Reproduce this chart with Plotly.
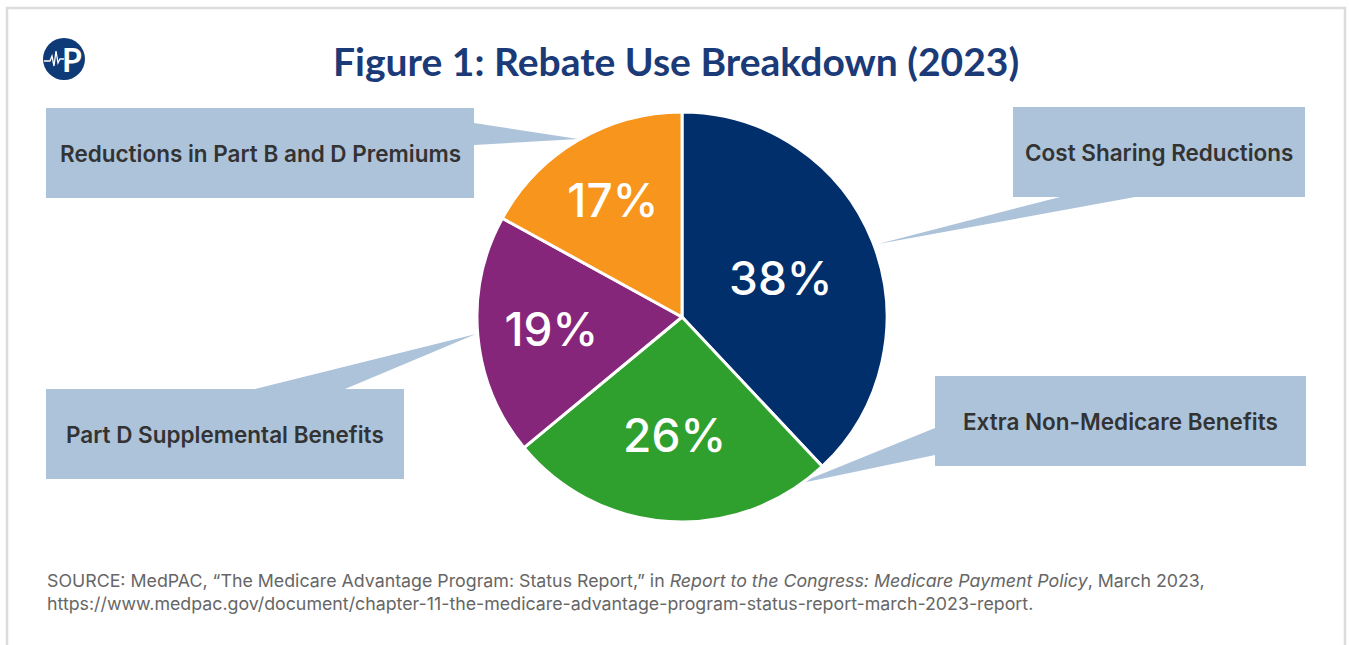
import plotly.graph_objects as go

W, H = 1349, 645

labels = ["Cost Sharing Reductions", "Extra Non-Medicare Benefits",
          "Part D Supplemental Benefits", "Reductions in Part B and D Premiums"]
values = [38, 26, 19, 17]
colors = ["#002f6c", "#2fa02e", "#86267b", "#f8951d"]

title_text = "Figure 1: Rebate Use Breakdown (2023)"
source_line1 = ("SOURCE: MedPAC, \u201cThe Medicare Advantage Program: Status Report,\u201d in "
                "<i>Report to the Congress: Medicare Payment Policy</i>, March 2023,")
source_line2 = "https://www.medpac.gov/document/chapter-11-the-medicare-advantage-program-status-report-march-2023-report."


def px(x):
    return x / W


def py(y):
    return 1 - y / H


fig = go.Figure()
fig.add_trace(go.Pie(
    labels=labels, values=values, sort=False, direction="clockwise", rotation=0,
    marker=dict(colors=colors, line=dict(color="white", width=3)),
    texttemplate="%{value}%", textposition="inside", insidetextorientation="horizontal",
    textfont=dict(family="Inter", size=46, color="white", weight=500),
    hoverinfo="skip", showlegend=False,
    domain=dict(x=[px(477), px(887)], y=[py(522), py(112)]),
))

shapes = []
CALL = "#adc3da"
# border
shapes.append(dict(type="rect", xref="paper", yref="paper", x0=px(7), x1=px(1345), y0=py(8), y1=py(660),
                   line=dict(color="#dcdcdc", width=2.5), fillcolor="rgba(0,0,0,0)", layer="below"))

callouts = [
    ((46, 108, 474, 198), [(474, 123), (474, 145), (578, 139)], labels[3]),
    ((1013, 107, 1305, 197), [(1060, 197), (1135, 197), (878, 244)], labels[0]),
    ((46, 389, 404, 479), [(255, 389), (345, 389), (476, 334)], labels[2]),
    ((935, 376, 1306, 466), [(935, 428), (935, 455), (797, 484)], labels[1]),
]
annotations = []
for (x0, y0, x1, y1), tri, txt in callouts:
    shapes.append(dict(type="rect", xref="paper", yref="paper", x0=px(x0), x1=px(x1), y0=py(y1), y1=py(y0),
                       line=dict(width=0), fillcolor=CALL, layer="below"))
    path = "M " + " L ".join(f"{px(a)},{py(b)}" for a, b in tri) + " Z"
    shapes.append(dict(type="path", xref="paper", yref="paper", path=path,
                       line=dict(width=0), fillcolor=CALL, layer="below"))
    annotations.append(dict(xref="paper", yref="paper", x=px((x0 + x1) / 2), y=py((y0 + y1) / 2),
                            text=txt, showarrow=False, xanchor="center", yanchor="middle",
                            font=dict(family="Inter", size=22.5, color="#333333", weight=600)))

# logo
shapes.append(dict(type="circle", xref="paper", yref="paper", x0=px(43), x1=px(85), y0=py(80), y1=py(38),
                   line=dict(width=0), fillcolor="#0e3a78", layer="above"))
hb = [(44, 61), (50, 61), (52, 56), (54, 66), (56, 51), (58, 63), (60, 59), (64, 59)]
shapes.append(dict(type="path", xref="paper", yref="paper",
                   path="M " + " L ".join(f"{px(a)},{py(b)}" for a, b in hb),
                   line=dict(color="white", width=1.3), layer="above"))
annotations.append(dict(xref="paper", yref="paper", x=px(72), y=py(60), text="<b>P</b>", showarrow=False,
                        xanchor="center", yanchor="middle",
                        font=dict(family="Lato", size=32, color="white")))

# title
annotations.append(dict(xref="paper", yref="paper", x=px(676), y=py(61), text=f"<b>{title_text}</b>",
                        showarrow=False, xanchor="center", yanchor="middle",
                        font=dict(family="Lato", size=39, color="#1b3a78")))
# source
annotations.append(dict(xref="paper", yref="paper", x=px(45), y=py(592), text=source_line1 + "<br>" + source_line2,
                        showarrow=False, xanchor="left", yanchor="middle", align="left",
                        font=dict(family="Inter", size=17.8, color="#666666")))

fig.update_layout(
    width=W, height=H, margin=dict(l=0, r=0, t=0, b=0),
    paper_bgcolor="white", plot_bgcolor="white",
    shapes=shapes, annotations=annotations,
)
fig.write_html("out.html")
